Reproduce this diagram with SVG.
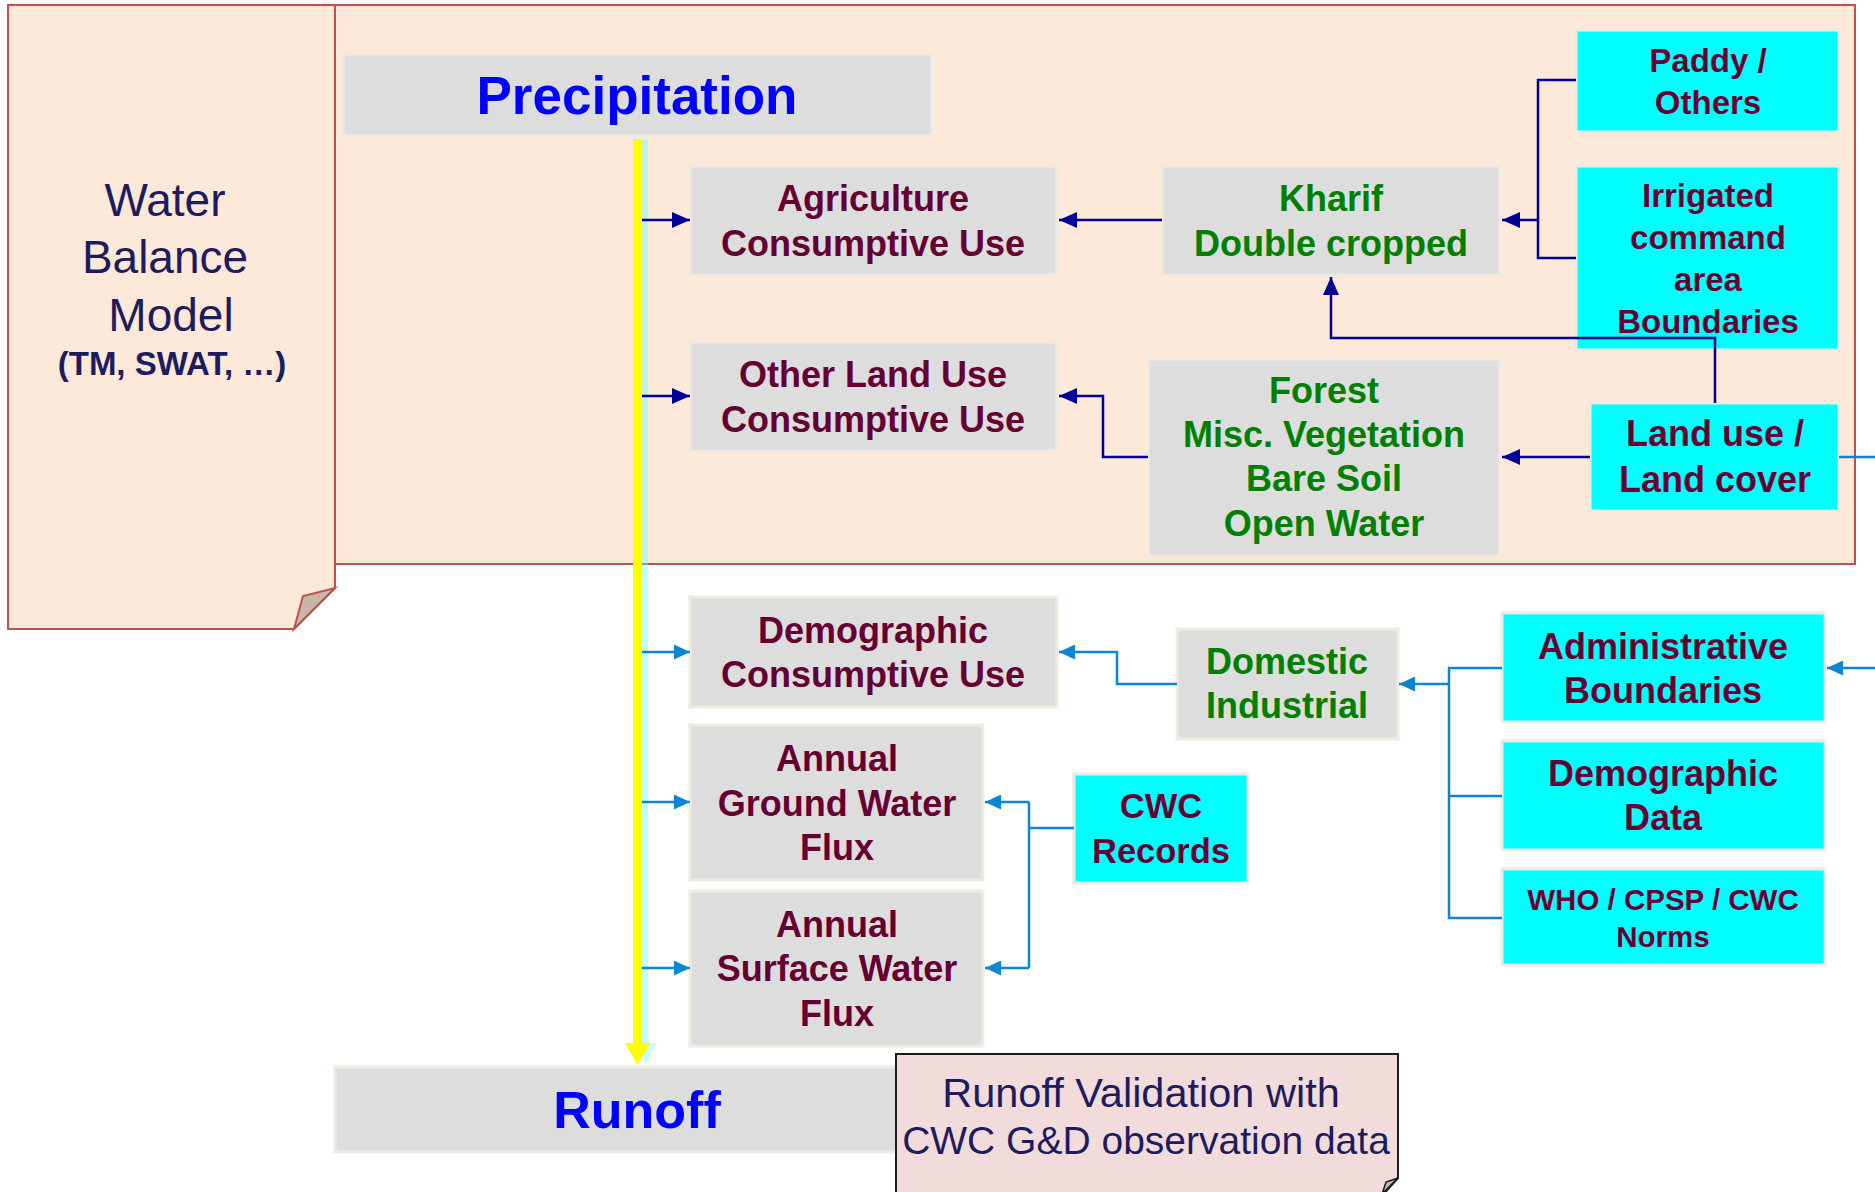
<svg xmlns="http://www.w3.org/2000/svg" width="1875" height="1192" viewBox="0 0 1875 1192">
<style>
  text { font-family: "Liberation Sans", Arial, sans-serif; text-anchor: middle; }
  .gbox { fill: #dddddd; stroke: #efebe1; stroke-width: 3; }
  .cbox { fill: #00ffff; stroke: #efebe1; stroke-width: 3; }
  .mt { fill: #660033; font-weight: bold; font-size: 36px; }
  .gt { fill: #008000; font-weight: bold; font-size: 36px; }
  .mt.s33 { font-size: 33px; }
  .mt.s34 { font-size: 34.5px; }
  .mt.s29 { font-size: 29.5px; }
  .bt { fill: #0000ff; font-weight: bold; }
  .nt { fill: #1c1c5e; }
  .dk { fill: none; stroke: #000099; stroke-width: 2.5; }
  .lb { fill: none; stroke: #0c86d2; stroke-width: 2.5; }
</style>
<defs>
  <marker id="ahDark" viewBox="0 0 18 16" refX="18" refY="8" markerWidth="18" markerHeight="16" orient="auto" markerUnits="userSpaceOnUse">
    <path d="M0,0 L18,8 L0,16 z" fill="#000099"/>
  </marker>
  <marker id="ahLight" viewBox="0 0 16 15" refX="16" refY="7.5" markerWidth="16" markerHeight="15" orient="auto" markerUnits="userSpaceOnUse">
    <path d="M0,0 L16,7.5 L0,15 z" fill="#0c86d2"/>
  </marker>
</defs>

<g id="model-region">
  <rect x="8" y="5" width="1847" height="559" fill="#fde9d9" stroke="#c0504d" stroke-width="2"/>
</g>

<g id="water-balance-model">
  <polygon points="8,5 335,5 335,588 294,629 8,629" fill="#fde9d9" stroke="#c0504d" stroke-width="2"/>
  <polygon points="294,629 303,596 335,588" fill="#c9b6a8" stroke="#c0504d" stroke-width="2"/>
  <text class="nt" x="165" y="216" font-size="46">Water</text>
  <text class="nt" x="165" y="273" font-size="46">Balance</text>
  <text class="nt" x="171" y="331" font-size="46">Model</text>
  <text class="nt" x="172" y="375" font-size="33" font-weight="bold">(TM, SWAT, …)</text>
</g>

<g id="precipitation">
  <rect class="gbox" x="343" y="54" width="589" height="82"/>
  <text class="bt" x="637" y="114" font-size="53">Precipitation</text>
</g>

<g id="agriculture-cu">
  <rect class="gbox" x="690" y="166" width="367" height="109"/>
  <text class="mt" x="873" y="211">Agriculture</text>
  <text class="mt" x="873" y="256">Consumptive Use</text>
</g>

<g id="other-land-use-cu">
  <rect class="gbox" x="690" y="342" width="367" height="109"/>
  <text class="mt" x="873" y="387">Other Land Use</text>
  <text class="mt" x="873" y="432">Consumptive Use</text>
</g>

<g id="kharif">
  <rect class="gbox" x="1162" y="166" width="338" height="109"/>
  <text class="gt" x="1331" y="211">Kharif</text>
  <text class="gt" x="1331" y="256">Double cropped</text>
</g>

<g id="forest">
  <rect class="gbox" x="1148" y="359" width="352" height="197"/>
  <text class="gt" x="1324" y="403">Forest</text>
  <text class="gt" x="1324" y="447">Misc. Vegetation</text>
  <text class="gt" x="1324" y="491">Bare Soil</text>
  <text class="gt" x="1324" y="536">Open Water</text>
</g>

<g id="paddy-others">
  <rect class="cbox" x="1576" y="30" width="263" height="102"/>
  <text class="mt s33" x="1708" y="72">Paddy /</text>
  <text class="mt s33" x="1708" y="114">Others</text>
</g>

<g id="irrigated-command-area">
  <rect class="cbox" x="1576" y="166" width="263" height="184"/>
  <text class="mt s33" x="1708" y="207">Irrigated</text>
  <text class="mt s33" x="1708" y="249">command</text>
  <text class="mt s33" x="1708" y="291">area</text>
  <text class="mt s33" x="1708" y="333">Boundaries</text>
</g>

<g id="land-use-cover">
  <rect class="cbox" x="1590" y="403" width="249" height="108"/>
  <text class="mt" x="1715" y="446">Land use /</text>
  <text class="mt" x="1715" y="492">Land cover</text>
</g>

<g id="demographic-cu">
  <rect class="gbox" x="690" y="597" width="367" height="110"/>
  <text class="mt" x="873" y="643">Demographic</text>
  <text class="mt" x="873" y="687">Consumptive Use</text>
</g>

<g id="domestic-industrial">
  <rect class="gbox" x="1177" y="629" width="221" height="110"/>
  <text class="gt" x="1287" y="674">Domestic</text>
  <text class="gt" x="1287" y="718">Industrial</text>
</g>

<g id="ground-water-flux">
  <rect class="gbox" x="690" y="725" width="293" height="155"/>
  <text class="mt" x="837" y="771">Annual</text>
  <text class="mt" x="837" y="816">Ground Water</text>
  <text class="mt" x="837" y="860">Flux</text>
</g>

<g id="surface-water-flux">
  <rect class="gbox" x="690" y="891" width="293" height="155"/>
  <text class="mt" x="837" y="937">Annual</text>
  <text class="mt" x="837" y="981">Surface Water</text>
  <text class="mt" x="837" y="1026">Flux</text>
</g>

<g id="cwc-records">
  <rect class="cbox" x="1074" y="774" width="174" height="109"/>
  <text class="mt s34" x="1161" y="818">CWC</text>
  <text class="mt s34" x="1161" y="863">Records</text>
</g>

<g id="administrative-boundaries">
  <rect class="cbox" x="1502" y="613" width="323" height="109"/>
  <text class="mt" x="1663" y="659">Administrative</text>
  <text class="mt" x="1663" y="703">Boundaries</text>
</g>

<g id="demographic-data">
  <rect class="cbox" x="1502" y="741" width="323" height="109"/>
  <text class="mt" x="1663" y="786">Demographic</text>
  <text class="mt" x="1663" y="830">Data</text>
</g>

<g id="who-cpsp-cwc-norms">
  <rect class="cbox" x="1502" y="869" width="323" height="96"/>
  <text class="mt s29" x="1663" y="910">WHO / CPSP / CWC</text>
  <text class="mt s29" x="1663" y="947">Norms</text>
</g>

<g id="runoff">
  <rect class="gbox" x="335" y="1067" width="580" height="85"/>
  <text class="bt" x="637" y="1128" font-size="52">Runoff</text>
</g>

<g id="runoff-validation">
  <polygon points="896,1054 1398,1054 1398,1178 1380,1198 896,1198" fill="#f2dcdb" stroke="#1a1a1a" stroke-width="2"/>
  <polygon points="1398,1178 1386,1182 1382,1194" fill="#c9b6a8" stroke="#1a1a1a" stroke-width="1.5"/>
  <text class="nt" x="1141" y="1107" font-size="41.5">Runoff Validation with</text>
  <text class="nt" x="1146" y="1154" font-size="39">CWC G&amp;D observation data</text>
</g>

<g id="connectors">
  <!-- main precipitation to runoff flow -->
  <g id="precip-to-runoff">
    <path d="M642,140 H648 V1043 H656 L645,1066 L640,1043 H642 Z" fill="#66ffff" fill-opacity="0.4"/>
    <path d="M633,139 H642 V1043 H650 L637.5,1065 L625,1043 H633 Z" fill="#ffff00"/>
  </g>
  <!-- from precipitation flow into consumptive uses -->
  <path class="dk" d="M642,220 H690" marker-end="url(#ahDark)"/>
  <path class="dk" d="M642,396 H690" marker-end="url(#ahDark)"/>
  <path class="lb" d="M642,652 H690" marker-end="url(#ahLight)"/>
  <path class="lb" d="M642,802 H690" marker-end="url(#ahLight)"/>
  <path class="lb" d="M642,968 H690" marker-end="url(#ahLight)"/>
  <!-- Kharif to Agriculture -->
  <path class="dk" d="M1162,220 H1059" marker-end="url(#ahDark)"/>
  <!-- Paddy / Irrigated to Kharif -->
  <path class="dk" d="M1576,80 H1538 V258 H1576"/>
  <path class="dk" d="M1538,220 H1502" marker-end="url(#ahDark)"/>
  <!-- Land use to Kharif -->
  <path class="dk" d="M1715,403 V338 H1331 V277" marker-end="url(#ahDark)"/>
  <!-- Land use to Forest -->
  <path class="dk" d="M1590,457 H1502" marker-end="url(#ahDark)"/>
  <!-- Forest to Other Land Use -->
  <path class="dk" d="M1148,457 H1103 V396 H1059" marker-end="url(#ahDark)"/>
  <!-- Land use outgoing right -->
  <path class="lb" d="M1839,457 H1875"/>
  <!-- incoming to Administrative Boundaries -->
  <path class="lb" d="M1875,668 H1827" marker-end="url(#ahLight)"/>
  <!-- Admin / Demographic data / Norms to Domestic -->
  <path class="lb" d="M1502,668 H1449 V918 H1502"/>
  <path class="lb" d="M1449,796 H1502"/>
  <path class="lb" d="M1449,684 H1399" marker-end="url(#ahLight)"/>
  <!-- Domestic to Demographic consumptive use -->
  <path class="lb" d="M1177,684 H1117 V652 H1059" marker-end="url(#ahLight)"/>
  <!-- CWC records to fluxes -->
  <path class="lb" d="M1074,828 H1029"/>
  <path class="lb" d="M1029,802 V968"/>
  <path class="lb" d="M1029,802 H985" marker-end="url(#ahLight)"/>
  <path class="lb" d="M1029,968 H985" marker-end="url(#ahLight)"/>
</g>
</svg>
